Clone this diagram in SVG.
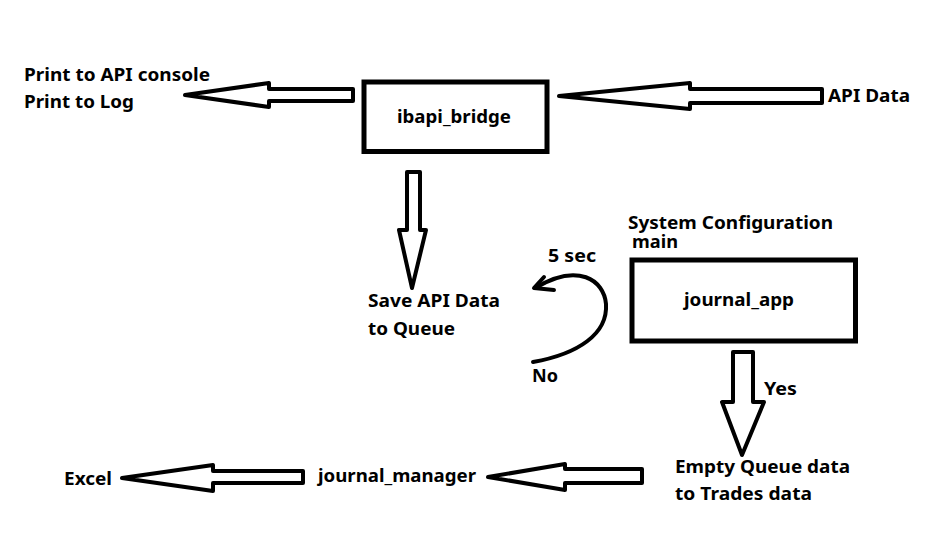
<svg xmlns="http://www.w3.org/2000/svg" width="948" height="547" viewBox="0 0 948 547">
<style>
.t{font-family:"Noto Sans","Open Sans","Liberation Sans",sans-serif;font-weight:bold;font-size:18px;fill:#000}
.box{fill:#fff;stroke:#000;stroke-width:5}
.arr{fill:#fff;stroke:#000;stroke-width:4;stroke-linejoin:round}
.ln{fill:none;stroke:#000;stroke-width:4;stroke-linecap:round;stroke-linejoin:round}
</style>
<rect width="948" height="547" fill="#fff"/>
<g id="connectors">
<polygon class="arr" points="185,95 269,83 269,89 353,89 353,101 269,101 269,107"/>
<polygon class="arr" points="559,96 690,83 690,89 822,89 822,103 690,103 690,109"/>
<polygon class="arr" points="407,172 420,172 420,230 426,230 412,288 399,230 407,230"/>
<polygon class="arr" points="733,352 753,352 753,402 764,402 742,455 722,402 733,402"/>
<polygon class="arr" points="122,478 213,465 213,471 303,471 303,483 213,483 213,491"/>
<polygon class="arr" points="488,477 565,464 565,469 642,469 642,483 565,483 565,490"/>
<path class="ln" d="M533,362 C578,354 608,334 606,304 C604,280 578,262 535,288"/>
<path class="ln" d="M544,277 L534,288 L554,290"/>
</g>
<g id="ibapi_bridge">
<rect class="box" x="364" y="82" width="183" height="69.5"/>
<text class="t" x="397" y="123" textLength="114" lengthAdjust="spacingAndGlyphs">ibapi_bridge</text>
</g>
<g id="print_output">
<text class="t" x="24" y="81" textLength="186" lengthAdjust="spacingAndGlyphs">Print to API console</text>
<text class="t" x="24" y="108" textLength="110" lengthAdjust="spacingAndGlyphs">Print to Log</text>
</g>
<g id="api_data">
<text class="t" x="828" y="102" textLength="82" lengthAdjust="spacingAndGlyphs">API Data</text>
</g>
<g id="save_queue">
<text class="t" x="368" y="307" textLength="132" lengthAdjust="spacingAndGlyphs">Save API Data</text>
<text class="t" x="368" y="335" textLength="87" lengthAdjust="spacingAndGlyphs">to Queue</text>
</g>
<g id="loop_labels">
<text class="t" x="548" y="262" textLength="48" lengthAdjust="spacingAndGlyphs">5 sec</text>
<text class="t" x="532" y="382" textLength="26" lengthAdjust="spacingAndGlyphs">No</text>
</g>
<g id="journal_app">
<text class="t" x="628" y="229" textLength="205" lengthAdjust="spacingAndGlyphs">System Configuration</text>
<text class="t" x="632" y="248" textLength="46" lengthAdjust="spacingAndGlyphs">main</text>
<rect class="box" x="632" y="260" width="223.5" height="81"/>
<text class="t" x="684" y="306" textLength="110" lengthAdjust="spacingAndGlyphs">journal_app</text>
</g>
<g id="yes_label">
<text class="t" x="764" y="395" textLength="33" lengthAdjust="spacingAndGlyphs">Yes</text>
</g>
<g id="empty_queue">
<text class="t" x="675" y="473" textLength="175" lengthAdjust="spacingAndGlyphs">Empty Queue data</text>
<text class="t" x="675" y="500" textLength="137" lengthAdjust="spacingAndGlyphs">to Trades data</text>
</g>
<g id="journal_manager">
<text class="t" x="318" y="482" textLength="158" lengthAdjust="spacingAndGlyphs">journal_manager</text>
</g>
<g id="excel">
<text class="t" x="64" y="485" textLength="48" lengthAdjust="spacingAndGlyphs">Excel</text>
</g>
</svg>
